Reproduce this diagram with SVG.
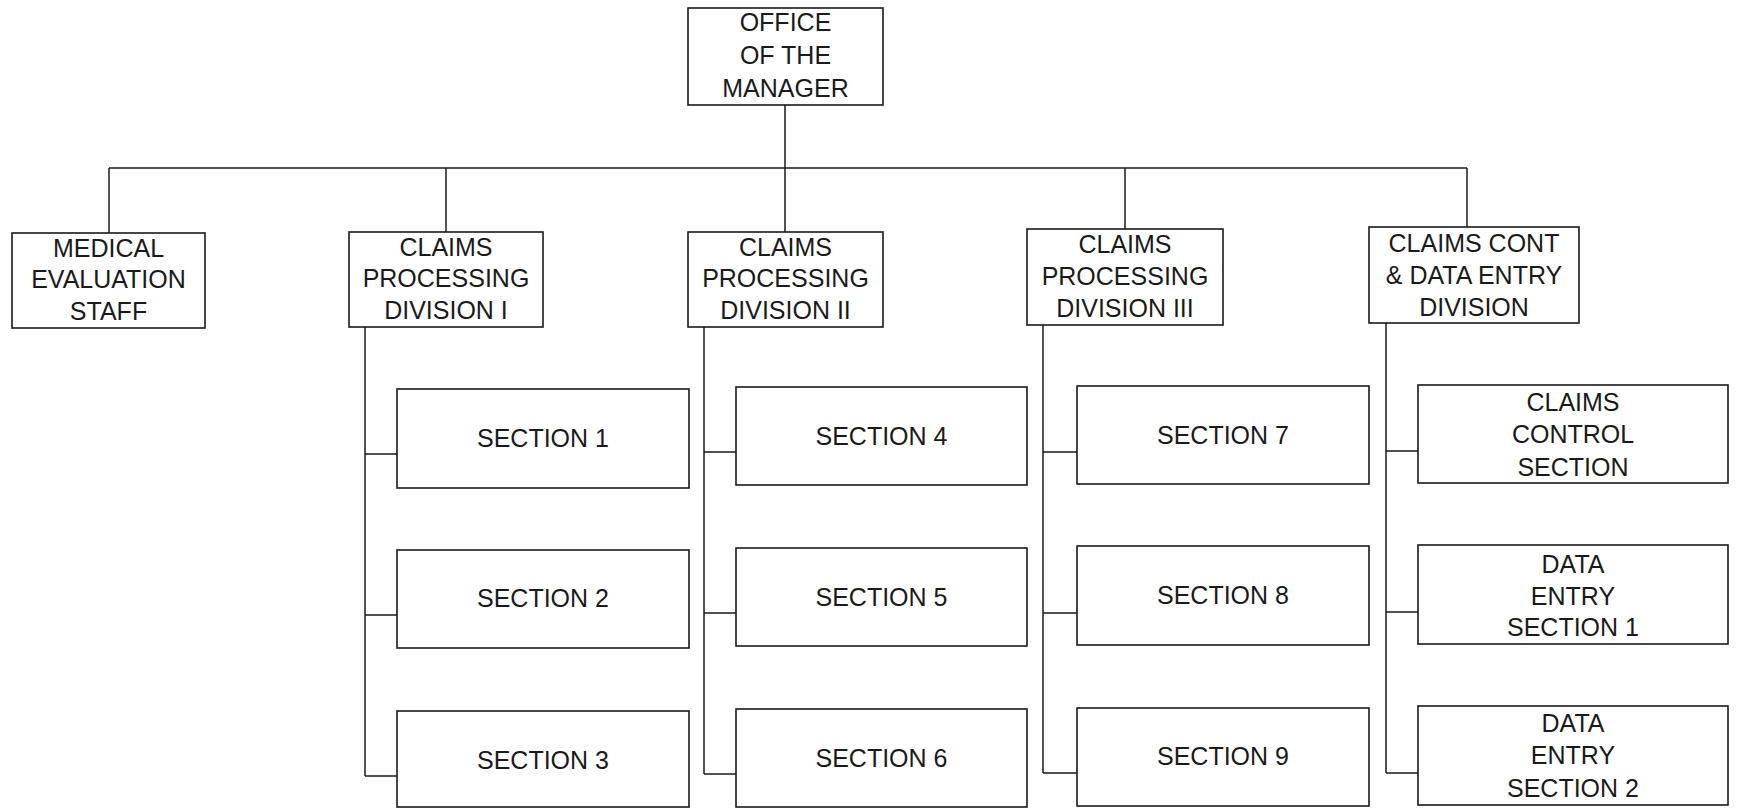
<svg xmlns="http://www.w3.org/2000/svg" width="1738" height="808" viewBox="0 0 1738 808">
<style>
.box{fill:#fff;stroke:#1a1a1a;stroke-width:1.6}
.ln{fill:none;stroke:#1a1a1a;stroke-width:1.5}
text{font-family:"Liberation Sans",Arial,sans-serif;font-size:25px;fill:#1a1a1a;text-anchor:middle}
</style>
<rect width="1738" height="808" fill="#fff"/>
<g id="connectors">
<path class="ln" d="M785 105V168M109 168H1467M109 168V233M446 168V232M785 168V232M1125 168V229M1467 168V227"/>
<path class="ln" d="M365 327V776M365 454H397M365 615H397M365 776H397"/>
<path class="ln" d="M704 327V774M704 452H736M704 613H736M704 774H736"/>
<path class="ln" d="M1043 325V773M1043 452H1077M1043 613H1077M1043 773H1077"/>
<path class="ln" d="M1386 323V773M1386 451H1418M1386 612H1418M1386 773H1418"/>
</g>
<g id="office"><rect class="box" x="688" y="8" width="195" height="97"/><text x="785.5" y="31">OFFICE</text><text x="785.5" y="64">OF THE</text><text x="785.5" y="97">MANAGER</text></g>
<g id="medical"><rect class="box" x="12" y="233" width="193" height="95"/><text x="108.5" y="257">MEDICAL</text><text x="108.5" y="288">EVALUATION</text><text x="108.5" y="320">STAFF</text></g>
<g id="div1"><rect class="box" x="349" y="232" width="194" height="95"/><text x="446" y="256">CLAIMS</text><text x="446" y="287">PROCESSING</text><text x="446" y="319">DIVISION I</text></g>
<g id="div2"><rect class="box" x="688" y="232" width="195" height="95"/><text x="785.5" y="256">CLAIMS</text><text x="785.5" y="287">PROCESSING</text><text x="785.5" y="319">DIVISION II</text></g>
<g id="div3"><rect class="box" x="1027" y="229" width="196" height="96"/><text x="1125" y="253">CLAIMS</text><text x="1125" y="285">PROCESSING</text><text x="1125" y="317">DIVISION III</text></g>
<g id="div4"><rect class="box" x="1369" y="227" width="210" height="96"/><text x="1474" y="252">CLAIMS CONT</text><text x="1474" y="284">&amp; DATA ENTRY</text><text x="1474" y="316">DIVISION</text></g>
<g id="sec1"><rect class="box" x="397" y="389" width="292" height="99"/><text x="543" y="447">SECTION 1</text></g>
<g id="sec2"><rect class="box" x="397" y="550" width="292" height="98"/><text x="543" y="607">SECTION 2</text></g>
<g id="sec3"><rect class="box" x="397" y="711" width="292" height="96"/><text x="543" y="769">SECTION 3</text></g>
<g id="sec4"><rect class="box" x="736" y="387" width="291" height="98"/><text x="881.5" y="445">SECTION 4</text></g>
<g id="sec5"><rect class="box" x="736" y="548" width="291" height="98"/><text x="881.5" y="606">SECTION 5</text></g>
<g id="sec6"><rect class="box" x="736" y="709" width="291" height="98"/><text x="881.5" y="767">SECTION 6</text></g>
<g id="sec7"><rect class="box" x="1077" y="386" width="292" height="98"/><text x="1223" y="444">SECTION 7</text></g>
<g id="sec8"><rect class="box" x="1077" y="546" width="292" height="99"/><text x="1223" y="604">SECTION 8</text></g>
<g id="sec9"><rect class="box" x="1077" y="708" width="292" height="98"/><text x="1223" y="765">SECTION 9</text></g>
<g id="ccs"><rect class="box" x="1418" y="385" width="310" height="98"/><text x="1573" y="411">CLAIMS</text><text x="1573" y="443">CONTROL</text><text x="1573" y="476">SECTION</text></g>
<g id="des1"><rect class="box" x="1418" y="545" width="310" height="99"/><text x="1573" y="573">DATA</text><text x="1573" y="605">ENTRY</text><text x="1573" y="636">SECTION 1</text></g>
<g id="des2"><rect class="box" x="1418" y="706" width="310" height="99"/><text x="1573" y="732">DATA</text><text x="1573" y="764">ENTRY</text><text x="1573" y="797">SECTION 2</text></g>
</svg>
